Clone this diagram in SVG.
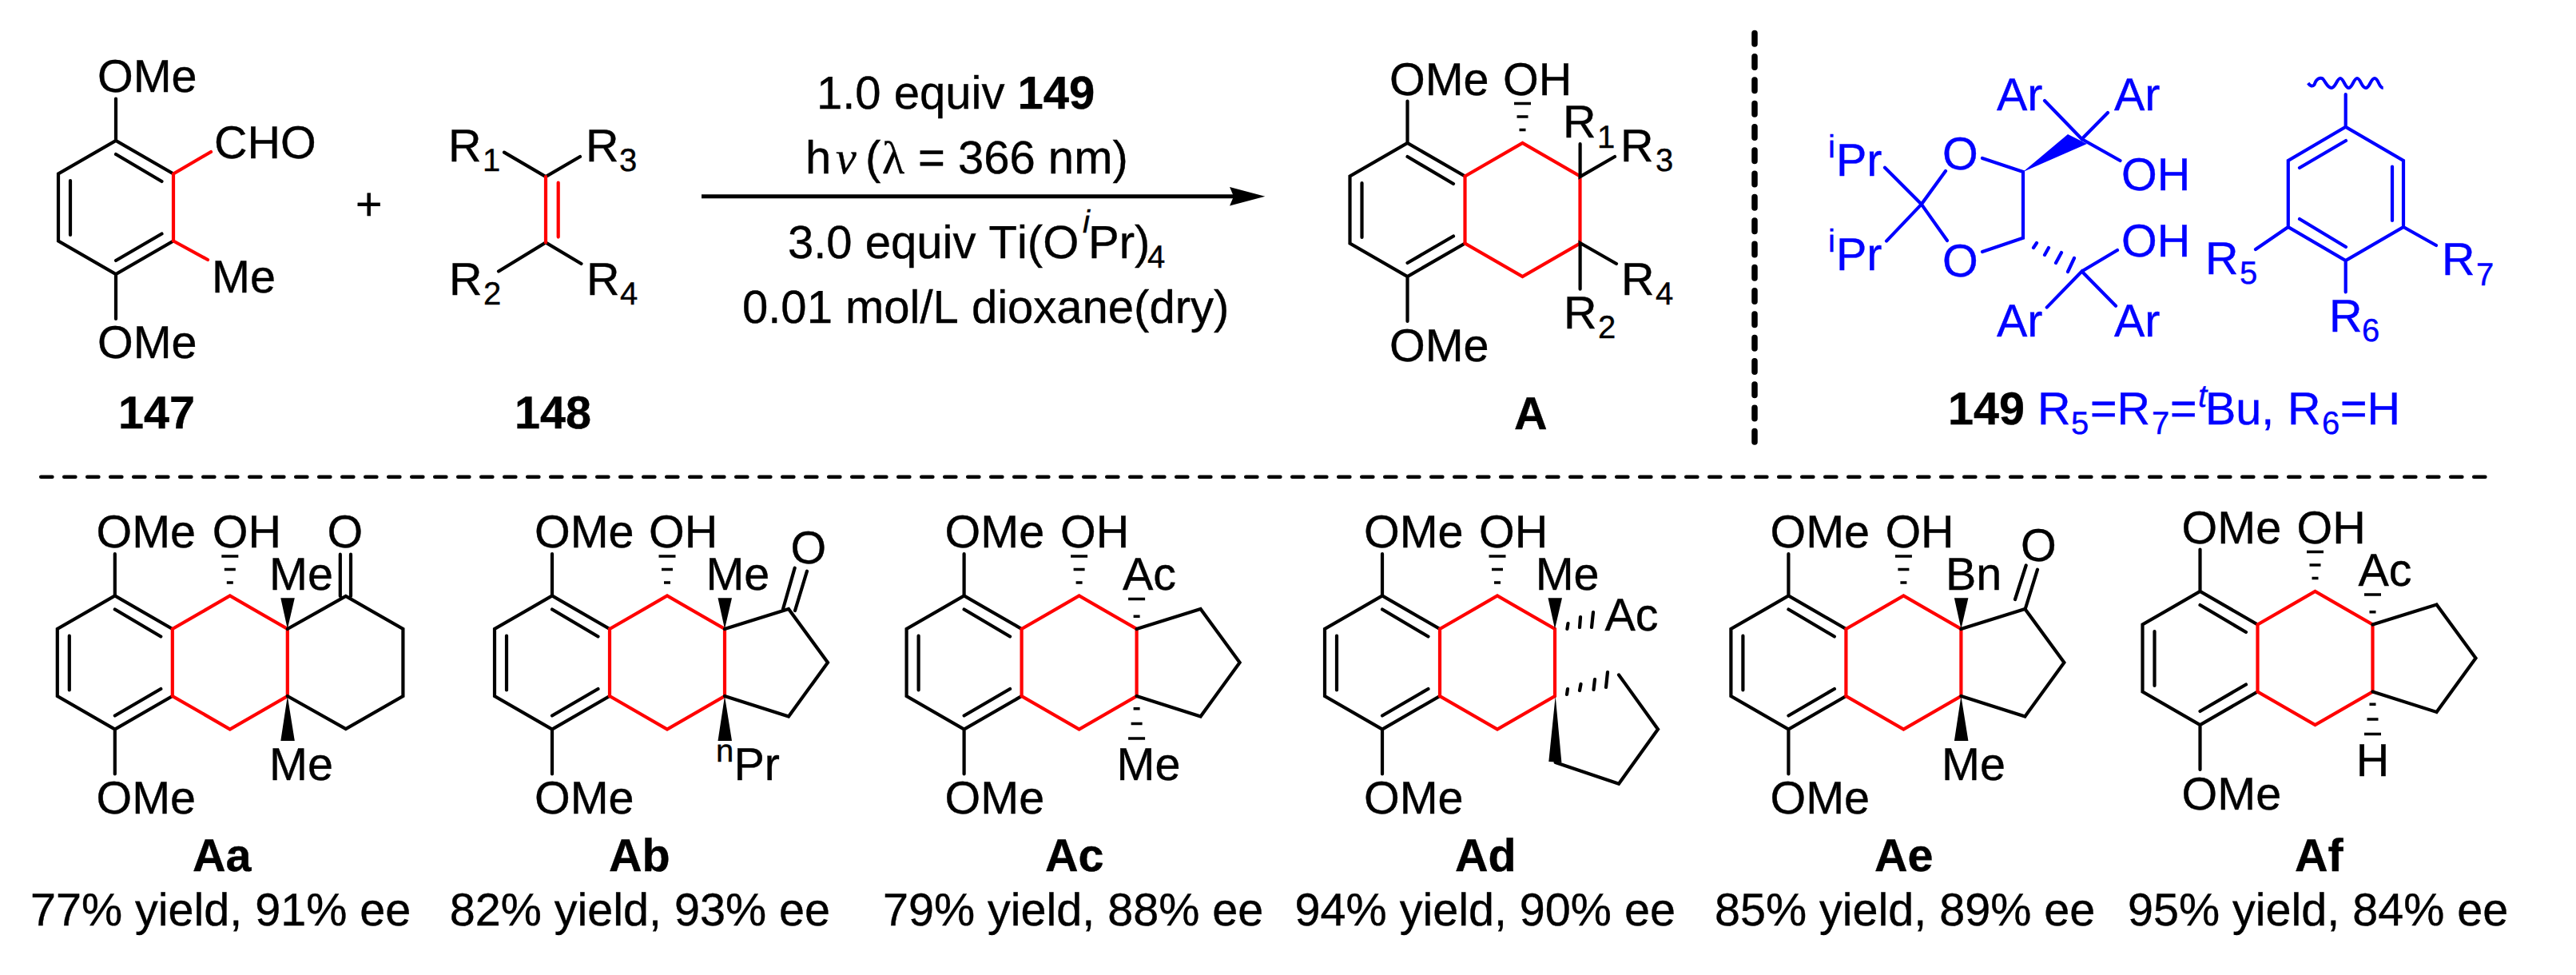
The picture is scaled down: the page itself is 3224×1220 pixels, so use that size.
<svg xmlns="http://www.w3.org/2000/svg" width="3224" height="1220" viewBox="0 0 3224 1220">
<style>
text{font-family:"Liberation Sans",Arial,sans-serif;font-size:57.5px;fill:#000;font-kerning:none;text-rendering:geometricPrecision;stroke:#000;stroke-width:.4}
.c{font-size:58px}
.b{font-weight:bold}
.s{font-size:40px}
.u text{fill:#00f;stroke:#00f}
.u text.b{fill:#000;stroke:#000}
.k{fill:none;stroke:#000;stroke-width:4.2;stroke-linejoin:miter;stroke-linecap:round}
.r{fill:none;stroke:#f00;stroke-width:4.2;stroke-linejoin:miter;stroke-linecap:round}
.bl{fill:none;stroke:#00f;stroke-width:4.2;stroke-linejoin:miter;stroke-linecap:round}
.f{fill:#000;stroke:none}
</style>
<defs>
<path id="benz" d="M72,41.5 L0,0 L-72,41.5 V125.5 L0,167 L72,125.5 M-57,50 V118 M0,17 L57.5,51 M0,150 L57.5,116.5 M0,-52.5 V0 M0,167 V223"/>
<path id="redring" d="M72,41.5 L144,0 L216,41.5 V125.5 L144,167 L72,125.5 Z"/>
<path id="hOH" d="M133.5,-51.2 h21 v3.4 h-21 Z M137,-34.7 h14 v3.4 h-14 Z M140,-18.2 h8 v3.4 h-8 Z"/>
<path id="cp" d="M216,41.5 L296,16.5 L345,83.5 L296,151 L216,125.5"/>
<path id="wUp" d="M216,41.5 L207.5,2.8 H225 Z"/>
<path id="wDown" d="M216,125.5 L207.5,181.5 H225 Z"/>
<path id="hUp" d="M205.5,2.3 h21 v3.4 h-21 Z M212,24 h8 v3.4 h-8 Z"/>
<path id="hDown" d="M212,139.5 h8 v3.4 h-8 Z M209,158.3 h14 v3.4 h-14 Z M205.5,176.8 h21 v3.4 h-21 Z"/>
</defs>
<rect width="3224" height="1220" fill="#fff"/>

<g id="connectors">
<path d="M878,245.7 H1546" fill="none" stroke="#000" stroke-width="5"/>
<path d="M1583.3,245.7 L1539,234 L1544,245.7 L1539,257.5 Z" fill="#000"/>
<path d="M2196,41.5 V559" fill="none" stroke="#000" stroke-width="7.5" stroke-linecap="round" stroke-dasharray="13.5 15.8"/>
<path d="M51.2,596.7 H3121" fill="none" stroke="#000" stroke-width="4.5" stroke-linecap="round" stroke-dasharray="14.2 14.8"/>
</g>

<g id="n147">
<use href="#benz" x="145" y="176" class="k"/>
<path class="r" d="M217,217.5 V301.5 M217,217.5 L264,190 M217,301.5 L260,325"/>
<text x="122" y="115">OMe</text>
<text x="268" y="198">CHO</text>
<text x="265" y="365.5">Me</text>
<text x="122" y="448">OMe</text>
<text class="b" x="148" y="536">147</text>
</g>

<g id="plus"><text x="445" y="275">+</text></g>

<g id="n148">
<path class="k" d="M631,190.6 L683,221 L726,196 M624,339.5 L683,303.5 L727.5,330"/>
<path class="r" d="M683,221 V303.5 M698.7,228.5 V296.6"/>
<text x="561" y="202">R</text><text class="s" x="604" y="214">1</text>
<text x="733" y="202">R</text><text class="s" x="775" y="214">3</text>
<text x="562" y="369">R</text><text class="s" x="605" y="381">2</text>
<text x="734" y="369">R</text><text class="s" x="776" y="381">4</text>
<text class="b" x="644" y="536">148</text>
</g>

<g id="conditions">
<text class="c" x="1022" y="136">1.0 equiv <tspan class="b">149</tspan></text>
<text class="c" x="1008" y="217">h</text>
<text class="c" x="1046" y="217" style="font-family:'Liberation Serif',serif;font-style:italic">ν</text>
<text class="c" x="1083" y="217">(</text>
<text class="c" x="1104" y="217" style="font-family:'Liberation Serif',serif">λ</text>
<text class="c" x="1149" y="217">= 366 nm)</text>
<text class="c" x="986" y="323">3.0 equiv Ti(O</text>
<text class="s" x="1355" y="291" style="font-style:italic">i</text>
<text class="c" x="1362" y="323">Pr)</text>
<text class="s" x="1436" y="335">4</text>
<text class="c" x="929" y="404">0.01 mol/L dioxane(dry)</text>
</g>

<g id="nA">
<use href="#benz" x="1761.5" y="179" class="k"/>
<use href="#redring" x="1761.5" y="179" class="r"/>
<use href="#hOH" x="1761.5" y="179" class="f"/>
<path class="k" d="M1977.6,180 V221 L2021,196 M2023,330 L1977.6,304 V361.7"/>
<text x="1739" y="118.6">OMe</text>
<text x="1881" y="118.6">OH</text>
<text x="1956" y="172">R</text><text class="s" x="1999" y="184.5">1</text>
<text x="2028" y="202">R</text><text class="s" x="2072" y="214">3</text>
<text x="2029" y="369">R</text><text class="s" x="2072" y="381">4</text>
<text x="1957" y="410.6">R</text><text class="s" x="2000" y="423">2</text>
<text x="1739" y="451.6">OMe</text>
<text class="b" x="1895" y="537">A</text>
</g>

<g id="n149" class="u">
<path class="bl" d="M2359,209.7 L2404.8,255.6 L2361,301.6 M2435,214 L2404.8,255.6 L2437,301 M2481,198 L2532,215 V297.7 L2481,315 M2559,126 L2605.5,174 L2638,141 M2605.5,174 L2653.5,201 M2561.7,384.6 L2605.5,339.5 L2648,382.7 M2605.5,339.5 L2650,313 M2545,310 L2549,304 M2559,319 L2564,310 M2573,329 L2580,316 M2588,340 L2596,323"/>
<path d="M2532,215 L2588,168 L2612,180 Z" fill="#00f"/>
<text x="2288" y="197" class="s">i</text><text x="2298" y="220">Pr</text>
<text x="2288" y="315" class="s">i</text><text x="2298" y="338">Pr</text>
<text x="2431" y="211.6">O</text>
<text x="2431" y="346">O</text>
<text x="2499" y="138">Ar</text>
<text x="2646" y="138">Ar</text>
<text x="2655" y="238">OH</text>
<text x="2655" y="320.7">OH</text>
<text x="2499" y="421">Ar</text>
<text x="2646" y="421">Ar</text>
</g>

<g id="aryl" class="u">
<path class="bl" d="M2935.7,118 V158.8 L3008,201 V284 L2935.7,326 L2863.8,284 V201 L2935.7,158.8 M2994,208.6 V276 M2936,176 L2878,210 M2878,274 L2936,309 M2863.8,284 L2823,312 M3008,284 L3049,307 M2935.7,326 V365.5"/>
<path d="M2888.7,104 Q2893,110 2896.5,106 C2899,98 2904,96.5 2907,98.5 C2911,103 2913,110 2918,110 C2923,110 2925,98 2929,98 C2933,98 2935,110 2939.5,110 C2944,110 2946,98 2950,98 C2954.5,98 2955.5,110 2961,110 C2966,110 2967,98 2972,98 C2977,98 2977,110 2982.7,110" fill="none" stroke="#00f" stroke-width="4"/>
<text x="2760" y="342.5">R</text><text class="s" x="2803" y="355">5</text>
<text x="3056" y="344.4">R</text><text class="s" x="3099" y="357">7</text>
<text x="2915" y="414.5">R</text><text class="s" x="2956" y="426.7">6</text>
</g>

<g id="label149" class="u">
<text class="b" x="2438" y="531">149</text>
<text x="2550" y="531">R</text><text class="s" x="2592" y="543">5</text>
<text x="2616" y="531">=R</text><text class="s" x="2693" y="543">7</text>
<text x="2716" y="531">=</text>
<text class="s" x="2751" y="509" style="font-style:italic">t</text>
<text x="2760" y="531">Bu,</text>
<text x="2863" y="531">R</text><text class="s" x="2906" y="543">6</text>
<text x="2929" y="531">=H</text>
</g>

<g id="Aa">
<use href="#benz" x="143.8" y="745.5" class="k"/>
<use href="#redring" x="143.8" y="745.5" class="r"/>
<use href="#hOH" x="143.8" y="745.5" class="f"/>
<path class="k" d="M359.8,787 L432.8,746 L504.4,787 V871 L432.8,912 L359.8,871 M425.8,693.7 V746 M439,693.7 V746"/>
<use href="#wUp" x="143.8" y="745.5" class="f"/>
<use href="#wDown" x="143.8" y="745.5" class="f"/>
<text x="120.5" y="685">OMe</text>
<text x="265.7" y="685">OH</text>
<text x="409.5" y="685">O</text>
<text x="337" y="738.4">Me</text>
<text x="337" y="976.4">Me</text>
<text x="120.5" y="1018.3">OMe</text>
<text class="b" x="241" y="1089.5">Aa</text>
<text x="38" y="1157.5">77% yield, 91% ee</text>
</g>

<g id="Ab">
<use href="#benz" x="691" y="745.5" class="k"/>
<use href="#redring" x="691" y="745.5" class="r"/>
<use href="#hOH" x="691" y="745.5" class="f"/>
<use href="#cp" x="691" y="745.5" class="k"/>
<path class="k" d="M994.7,710.7 L980,762 M1010,714.7 L995,764"/>
<use href="#wUp" x="691" y="745.5" class="f"/>
<use href="#wDown" x="691" y="745.5" class="f"/>
<text x="669" y="685">OMe</text>
<text x="812" y="685">OH</text>
<text x="989.6" y="704.8">O</text>
<text x="883.4" y="738.4">Me</text>
<text class="s" x="896" y="953">n</text><text x="918.5" y="976.4">Pr</text>
<text x="669" y="1018.3">OMe</text>
<text class="b" x="762" y="1089.5">Ab</text>
<text x="562.7" y="1157.5">82% yield, 93% ee</text>
</g>

<g id="Ac">
<use href="#benz" x="1206.6" y="745.5" class="k"/>
<use href="#redring" x="1206.6" y="745.5" class="r"/>
<use href="#hOH" x="1206.6" y="745.5" class="f"/>
<use href="#cp" x="1206.6" y="745.5" class="k"/>
<use href="#hUp" x="1206.6" y="745.5" class="f"/>
<use href="#hDown" x="1206.6" y="745.5" class="f"/>
<text x="1182.6" y="685">OMe</text>
<text x="1327" y="685">OH</text>
<text x="1405" y="738.4">Ac</text>
<text x="1397.6" y="976.4">Me</text>
<text x="1182.6" y="1018.3">OMe</text>
<text class="b" x="1308" y="1089.5">Ac</text>
<text x="1105" y="1157.5">79% yield, 88% ee</text>
</g>

<g id="Ad">
<use href="#benz" x="1730" y="745.5" class="k"/>
<use href="#redring" x="1730" y="745.5" class="r"/>
<use href="#hOH" x="1730" y="745.5" class="f"/>
<use href="#wUp" x="1730" y="745.5" class="f"/>
<path class="k" d="M1961.4,787 L1962.5,780 M1977,785 L1978,772 M1992,785 L1994,766 M1961,869 L1962,862 M1977,864 L1978.5,856 M1994.5,863 L1996,850 M2010,860 L2012,841 M2026,844.4 L2075,912.4 L2026,980.8 L1946.7,954"/>
<path class="f" d="M1946.7,870.9 L1938.3,953 L1954.4,954 Z"/>
<text x="1707" y="685">OMe</text>
<text x="1851" y="685">OH</text>
<text x="1921.7" y="738.4">Me</text>
<text x="2008.5" y="789">Ac</text>
<text x="1707" y="1018.3">OMe</text>
<text class="b" x="1821" y="1089.5">Ad</text>
<text x="1620.6" y="1157.5">94% yield, 90% ee</text>
</g>

<g id="Ae">
<use href="#benz" x="2238.4" y="745.5" class="k"/>
<use href="#redring" x="2238.4" y="745.5" class="r"/>
<use href="#hOH" x="2238.4" y="745.5" class="f"/>
<use href="#cp" x="2238.4" y="745.5" class="k"/>
<path class="k" d="M2550,712.7 L2535,761 M2535.7,707.5 L2522,750"/>
<use href="#wUp" x="2238.4" y="745.5" class="f"/>
<use href="#wDown" x="2238.4" y="745.5" class="f"/>
<text x="2215.5" y="685">OMe</text>
<text x="2359.4" y="685">OH</text>
<text x="2529" y="702">O</text>
<text x="2435" y="738.4">Bn</text>
<text x="2430" y="976.4">Me</text>
<text x="2215.5" y="1018.3">OMe</text>
<text class="b" x="2346" y="1089.5">Ae</text>
<text x="2146" y="1157.5">85% yield, 89% ee</text>
</g>

<g id="Af">
<use href="#benz" x="2753.5" y="740" class="k"/>
<use href="#redring" x="2753.5" y="740" class="r"/>
<use href="#hOH" x="2753.5" y="740" class="f"/>
<use href="#cp" x="2753.5" y="740" class="k"/>
<use href="#hUp" x="2753.5" y="740" class="f"/>
<use href="#hDown" x="2753.5" y="740" class="f"/>
<text x="2730.6" y="680">OMe</text>
<text x="2874.5" y="680">OH</text>
<text x="2951.5" y="732.9">Ac</text>
<text x="2948.8" y="970.5">H</text>
<text x="2730.6" y="1013">OMe</text>
<text class="b" x="2872" y="1089.5">Af</text>
<text x="2663" y="1157.5">95% yield, 84% ee</text>
</g>
</svg>
